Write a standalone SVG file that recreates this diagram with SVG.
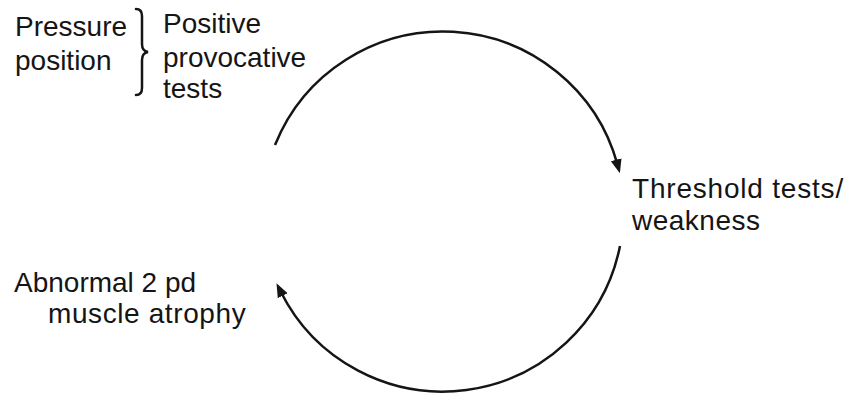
<svg xmlns="http://www.w3.org/2000/svg" width="849" height="398" viewBox="0 0 849 398">
<style>
text{font-family:"Liberation Sans",Arial,Helvetica,sans-serif;font-size:28px;fill:#151515}
.arc{fill:none;stroke:#151515;stroke-width:2.5}
.brace{fill:none;stroke:#151515;stroke-width:2.5;stroke-linecap:round}
</style>
<defs>
<marker id="ah" markerUnits="userSpaceOnUse" markerWidth="16" markerHeight="12" refX="5" refY="5.5" orient="auto">
<path d="M0,0 L14,5.5 L0,11 z" fill="#151515"/>
</marker>
</defs>
<rect width="849" height="398" fill="#fff"/>
<g id="node-pressure">
<text x="15" y="36">Pressure</text>
<text x="15" y="70">position</text>
<path class="brace" d="M136,9 Q142,9 142,16 L142,44 Q142,51 148,52 Q142,53 142,60 L142,88 Q142,95 136,95"/>
<text x="163" y="33">Positive</text>
<text x="163" y="67">provocative</text>
<text x="163" y="98">tests</text>
</g>
<g id="node-threshold">
<text x="632" y="198" letter-spacing="0.8">Threshold tests/</text>
<text x="632" y="230" letter-spacing="0.5">weakness</text>
</g>
<g id="node-abnormal">
<text x="14" y="292">Abnormal 2 pd</text>
<text x="48" y="323" letter-spacing="0.6">muscle atrophy</text>
</g>
<g id="connectors">
<path class="arc" d="M275,145 A181,181 0 0 1 617.5,164.6" marker-end="url(#ah)"/>
<path class="arc" d="M620,246 A181,181 0 0 1 280.5,291.3" marker-end="url(#ah)"/>
</g>
</svg>
